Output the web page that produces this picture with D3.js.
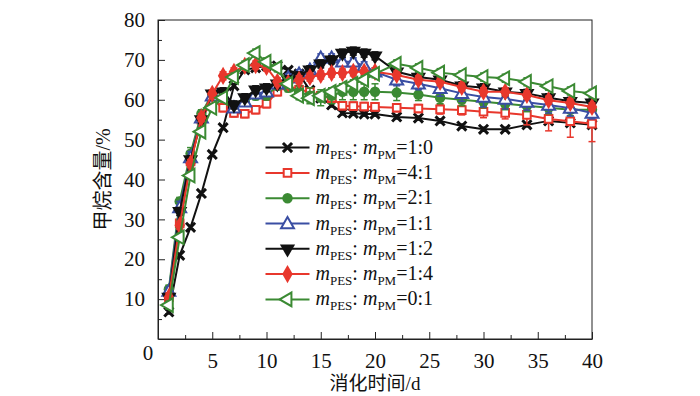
<!DOCTYPE html>
<html>
<head>
<meta charset="utf-8">
<script src="https://cdn.jsdelivr.net/npm/d3@7"></script>
<style>
  body { margin: 0; background: #fff; }
</style>
</head>
<body>
<div id="chart"></div>
<script>
// digestion days (daily to day 20, then every 2 days)
const days = [1, 2, 3, 4, 5, 6, 7, 8, 9, 10, 11, 12, 13, 14, 15, 16, 17, 18, 19, 20,
              22, 24, 26, 28, 30, 32, 34, 36, 38, 40];

const xTicks = [5, 10, 15, 20, 25, 30, 35, 40];
const yTicks = [10, 20, 30, 40, 50, 60, 70, 80];

// methane content (%) per mass ratio m_PES : m_PM
const ratio10 = [6.8, 21, 28, 36.5, 46.3, 53, 63.5, 67.5, 68, 68.5, 68.5, 67.4, 66.5, 62.4, 60.4, 58.7, 56.7, 56.6, 56.4, 56.4,
                 55.7, 55.4, 54.7, 53.4, 52.6, 52.6, 53.7, 54.7, 54.2, 53.7];
const ratio41 = [10.5, 29, 44.5, 55, 60, 58, 56.7, 56.5, 57.5, 59, 62, 63.5, 62.5, 62, 61, 60.4, 58.5, 58.4, 58.3, 58.2,
                 58, 57.8, 57.6, 57.4, 57, 56.7, 56.2, 55.2, 54.6, 54];
const ratio21 = [12.5, 34.5, 46.5, 56.5, 61.5, 60.5, 58.5, 59.5, 61, 61, 63.5, 63, 62, 61, 60.5, 61, 62, 62, 62, 62,
                 61.8, 61.3, 60.5, 60, 59.5, 59, 58.5, 58, 57.5, 57.5];
const ratio11 = [12, 33, 45.5, 55.5, 61, 61, 58, 59.5, 61.5, 62, 64, 65.5, 66.5, 67.5, 70.5, 70.5, 69.5, 69.5, 68.5, 67,
                 65, 64, 62.9, 61.6, 60.7, 60.2, 59.4, 58.7, 57.9, 56.7];
const ratio12 = [10.5, 32, 45, 55, 61.5, 62, 58.7, 60.5, 62.5, 63, 64, 65, 66, 67.5, 69, 70, 71.7, 72.2, 71.7, 71,
                 67, 65.7, 65, 63.5, 63, 62, 61.6, 60.5, 59.6, 59.2];
const ratio14 = [10.5, 28.5, 44, 55.5, 61.5, 66, 67, 68.5, 68.7, 68.2, 64.5, 64.2, 65, 65.7, 66.2, 66.7, 66.7, 67, 67, 67,
                 66.2, 65, 64.5, 63.2, 62, 62, 61.2, 59.9, 59.2, 58.2];
const ratio01 = [8.5, 25.5, 41, 52, 58, 60.5, 65.7, 68.7, 71.7, 69.5, 68, 64, 61, 60.4, 61, 62, 63, 64, 65, 66.5,
                 69, 68, 66.8, 66.2, 65.7, 65.4, 64.5, 63.4, 62.2, 61.6];

// error bar half-heights
const err10 = [0.5, 0.5, 0.5, 0.5, 0.5, 0.5, 0.5, 0.5, 0.5, 0.5, 0.5, 0.5, 0.5, 0.5, 0.5, 0.5, 0.5, 0.5, 0.5, 0.5,
               0.5, 0.5, 0.5, 0.5, 0.5, 0.5, 0.5, 0.5, 0.5, 0.5];
const err41 = [1, 1, 1.5, 1.5, 1, 1, 1, 1, 1, 1, 1, 1, 1, 1, 1, 1, 1, 1, 1, 1,
               1, 1, 1.2, 1.2, 1.5, 1.5, 2.5, 3, 4, 4.5];
const err21 = [1, 1, 1.5, 1, 1, 1, 1, 1, 1, 1, 1, 1, 1.5, 2, 2, 2, 2, 2, 2, 2,
               2, 1.5, 1.5, 1.5, 1.5, 1.5, 1.5, 1.5, 1.5, 1.5];
const err11 = [1, 1.5, 1.5, 1, 1, 1, 1, 1, 1, 1, 1, 1, 1, 1, 1, 1, 1, 1, 1, 1,
               1.5, 1.5, 2, 2, 2.5, 2.5, 2, 2, 2, 1.5];
const err12 = [1, 1, 1, 1, 1, 1, 1, 1, 1, 1, 1, 1, 1, 1, 1, 1, 1, 1, 1, 1,
               1, 1, 1, 1, 1, 1, 1, 1, 1, 1];
const err14 = [1, 1, 1, 1, 1, 1, 1, 1, 1, 1, 1, 1, 1, 1, 1, 1, 1, 1, 1, 1,
               1, 1, 1, 1, 1, 1, 1, 1, 1, 1];
const err01 = [1, 1, 1, 1, 1, 1, 1, 1, 1, 1, 1, 1, 1, 1, 1, 1, 1, 1, 1, 1,
               1, 1, 1, 1, 1, 1, 1, 1, 1, 1];

const ratioLabels = ['1:0', '4:1', '2:1', '1:1', '1:2', '1:4', '0:1'];

const series = [
  { label: ratioLabels[0], values: ratio10, err: err10, color: '#111111', marker: 'star' },
  { label: ratioLabels[1], values: ratio41, err: err41, color: '#e8372c', marker: 'square' },
  { label: ratioLabels[2], values: ratio21, err: err21, color: '#3b8a33', marker: 'circle' },
  { label: ratioLabels[3], values: ratio11, err: err11, color: '#3a4ea3', marker: 'triUp' },
  { label: ratioLabels[4], values: ratio12, err: err12, color: '#111111', marker: 'triDown' },
  { label: ratioLabels[5], values: ratio14, err: err14, color: '#e8372c', marker: 'diamond' },
  { label: ratioLabels[6], values: ratio01, err: err01, color: '#3b8a33', marker: 'triLeft' },
];

// ------------------------------------------------------------------------
// SIZE
// ------------------------------------------------------------------------
const svgWidth = 700, svgHeight = 396;
const margin = { top: 20, left: 158, right: 108, bottom: 57 };
const graphWidth = svgWidth - margin.left - margin.right;
const graphHeight = svgHeight - margin.top - margin.bottom;

const serif = "'Liberation Serif', 'Noto Sans CJK SC', serif";

const svg = d3.select('#chart').append('svg')
  .attr('width', svgWidth)
  .attr('height', svgHeight);

const g = svg.append('g').attr('transform', `translate(${margin.left},${margin.top})`);

const x = d3.scaleLinear().domain([0, 40]).range([0, graphWidth]);
const y = d3.scaleLinear().domain([0, 80]).range([graphHeight, 0]);

// ------------------------------------------------------------------------
// AXES (ticks inward, minor ticks between)
// ------------------------------------------------------------------------
const xAxis = g.append('g').attr('transform', `translate(0,${graphHeight})`);
xAxis.call(d3.axisBottom(x).tickValues(xTicks).tickSizeInner(-7).tickSizeOuter(0).tickPadding(14).tickFormat(d3.format('d')));
xAxis.append('g').call(d3.axisBottom(x).tickValues(d3.range(2.5, 40, 5)).tickSize(-4).tickFormat(''))
  .select('.domain').remove();

const yAxis = g.append('g');
yAxis.call(d3.axisLeft(y).tickValues(yTicks).tickSizeInner(-7).tickSizeOuter(0).tickPadding(13).tickFormat(d3.format('d')));
yAxis.append('g').call(d3.axisLeft(y).tickValues(d3.range(5, 80, 10)).tickSize(-4).tickFormat(''))
  .select('.domain').remove();

g.selectAll('g').attr('font-family', null);
g.selectAll('.tick text')
  .style('font-family', serif)
  .attr('font-size', 21)
  .attr('fill', '#111');
g.selectAll('.tick line').attr('stroke', '#222').attr('stroke-width', 1);
g.selectAll('.domain').attr('stroke', '#222');

// shared origin label
g.append('text')
  .attr('x', x(0) - 10)
  .attr('y', y(0) + 21)
  .attr('text-anchor', 'middle')
  .style('font-family', serif)
  .attr('font-size', 21)
  .attr('fill', '#111')
  .text('0');

// frame
g.append('rect')
  .attr('width', graphWidth)
  .attr('height', graphHeight)
  .attr('fill', 'none')
  .attr('stroke', '#222')
  .attr('stroke-width', 1);

// axis titles
g.append('text')
  .attr('x', graphWidth / 2)
  .attr('y', graphHeight + 51)
  .attr('text-anchor', 'middle')
  .style('font-family', serif)
  .attr('font-size', 19)
  .attr('fill', '#111')
  .text('消化时间/d');

g.append('text')
  .attr('transform', `translate(${-48},${y(40)}) rotate(-90)`)
  .attr('text-anchor', 'middle')
  .style('font-family', serif)
  .attr('font-size', 20)
  .attr('fill', '#111')
  .text('甲烷含量/%');

// ------------------------------------------------------------------------
// MARKERS
// ------------------------------------------------------------------------
function drawMarker(sel, s) {
  const m = s.marker;
  if (m === 'star') {
    sel.append('path')
      .attr('d', d3.symbol(d3.symbolTimes, 56)())
      .attr('stroke', s.color).attr('stroke-width', 3).attr('fill', 'none');
    sel.append('path')
      .attr('d', d3.symbol(d3.symbolPlus, 40)())
      .attr('fill', s.color);
  } else if (m === 'square') {
    sel.append('path')
      .attr('d', d3.symbol(d3.symbolSquare, 58)())
      .attr('fill', '#fff').attr('stroke', s.color).attr('stroke-width', 2);
  } else if (m === 'circle') {
    sel.append('path')
      .attr('d', d3.symbol(d3.symbolCircle, 85)())
      .attr('fill', s.color);
  } else if (m === 'triUp') {
    sel.append('path')
      .attr('d', d3.symbol(d3.symbolTriangle, 72)())
      .attr('transform', 'translate(0,1)')
      .attr('fill', '#fff').attr('stroke', s.color).attr('stroke-width', 2);
  } else if (m === 'triDown') {
    sel.append('path')
      .attr('d', d3.symbol(d3.symbolTriangle, 100)())
      .attr('transform', 'rotate(180)')
      .attr('fill', s.color);
  } else if (m === 'diamond') {
    sel.append('path')
      .attr('d', d3.symbol(d3.symbolDiamond, 95)())
      .attr('fill', s.color);
  } else if (m === 'triLeft') {
    sel.append('path')
      .attr('d', d3.symbol(d3.symbolTriangle, 80)())
      .attr('transform', 'rotate(-90)')
      .attr('fill', '#fff').attr('stroke', s.color).attr('stroke-width', 2);
  }
}

// ------------------------------------------------------------------------
// SERIES
// ------------------------------------------------------------------------
const line = d3.line().x(d => x(d.day)).y(d => y(d.value));

series.forEach(s => {
  const pts = days.map((day, i) => ({ day, value: s.values[i], err: s.err[i] }));
  const layer = g.append('g').attr('class', 'series');

  layer.append('path')
    .datum(pts)
    .attr('d', line)
    .attr('fill', 'none')
    .attr('stroke', s.color)
    .attr('stroke-width', 2);

  const eb = layer.selectAll('.err').data(pts).enter().append('g').attr('class', 'err')
    .attr('stroke', s.color).attr('stroke-width', 1.5);
  eb.append('line')
    .attr('x1', d => x(d.day)).attr('x2', d => x(d.day))
    .attr('y1', d => y(d.value - d.err)).attr('y2', d => y(d.value + d.err));
  eb.append('line')
    .attr('x1', d => x(d.day) - 3.5).attr('x2', d => x(d.day) + 3.5)
    .attr('y1', d => y(d.value - d.err)).attr('y2', d => y(d.value - d.err));
  eb.append('line')
    .attr('x1', d => x(d.day) - 3.5).attr('x2', d => x(d.day) + 3.5)
    .attr('y1', d => y(d.value + d.err)).attr('y2', d => y(d.value + d.err));

  layer.selectAll('.pt').data(pts).enter().append('g').attr('class', 'pt')
    .attr('transform', d => `translate(${x(d.day)},${y(d.value)})`)
    .each(function() { drawMarker(d3.select(this), s); });
});

// ------------------------------------------------------------------------
// LEGEND
// ------------------------------------------------------------------------
const legend = g.append('g').attr('transform', `translate(${x(10)},${y(48)})`);
const rowH = 25.3;

series.forEach((s, i) => {
  const row = legend.append('g').attr('transform', `translate(0,${i * rowH})`);
  row.append('line')
    .attr('x1', -1).attr('x2', 43)
    .attr('stroke', s.color).attr('stroke-width', 2);
  drawMarker(row.append('g').attr('transform', 'translate(21,0)'), s);

  const t = row.append('text')
    .attr('x', 49).attr('y', 6)
    .style('font-family', serif)
    .attr('font-size', 20)
    .attr('fill', '#111');
  t.append('tspan').attr('font-style', 'italic').text('m');
  t.append('tspan').attr('font-size', 13).attr('dy', 5).text('PES');
  t.append('tspan').attr('dy', -5).text(': ');
  t.append('tspan').attr('font-style', 'italic').text('m');
  t.append('tspan').attr('font-size', 13).attr('dy', 5).text('PM');
  t.append('tspan').attr('dy', -5).text('=' + s.label);
});
</script>
</body>
</html>
